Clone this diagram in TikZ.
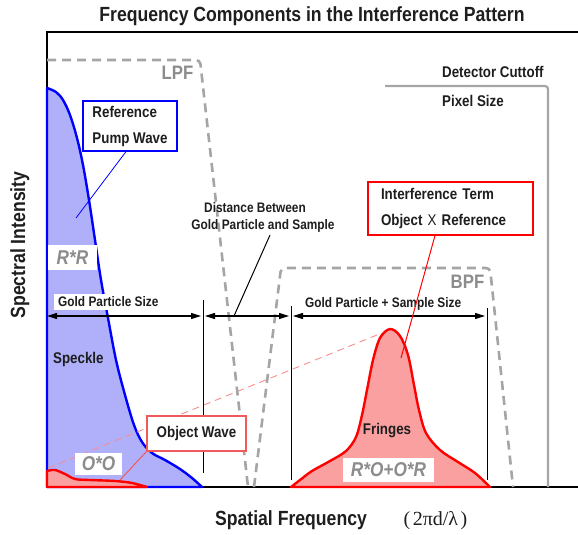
\documentclass[tikz,border=0pt]{standalone}
\usepackage{fontspec}
\setmainfont{Liberation Sans}
\newfontfamily\nar[FakeStretch=0.86]{Liberation Sans}
\newfontfamily\serifgr{Liberation Serif}
\usetikzlibrary{arrows.meta,calc}
\definecolor{txt}{RGB}{30,30,30}
\definecolor{bstroke}{RGB}{0,0,255}
\definecolor{bfill}{RGB}{176,176,250}
\definecolor{rstroke}{RGB}{255,0,0}
\definecolor{rfill}{RGB}{250,160,160}
\definecolor{ostroke}{RGB}{240,90,90}
\definecolor{rdashc}{RGB}{248,140,140}
\definecolor{gdash}{RGB}{165,165,165}
\definecolor{gtext}{RGB}{140,140,140}
\begin{document}
\begin{tikzpicture}[x=1pt,y=-1pt,
  every node/.style={inner sep=0pt},
  ttl/.style={font=\nar\bfseries\fontsize{20.5}{24}\selectfont, text=txt, anchor=base},
  lab/.style={font=\nar\bfseries\fontsize{15.5}{26}\selectfont, text=txt},
  sml/.style={font=\nar\bfseries\fontsize{13.8}{17}\selectfont, text=txt},
  filt/.style={font=\nar\bfseries\fontsize{19.5}{22}\selectfont, text=gtext, anchor=base},
  prod/.style={font=\nar\bfseries\itshape\fontsize{20}{22}\selectfont, text=gtext, fill=white},
  fdash/.style={draw=gdash, line width=2.6pt, dash pattern=on 9pt off 6pt, rounded corners=4pt},
  dimline/.style={line width=1.1pt, {Triangle[length=10pt,width=6pt]}-{Triangle[length=10pt,width=6pt]}},
  tickline/.style={line width=1pt},
  shapeB/.style={draw=bstroke, line width=2.4pt, fill=bfill, line join=round},
  shapeR/.style={draw=rstroke, line width=2.4pt, fill=rfill, line join=round},
  rdash/.style={draw=rdashc, line width=0.9pt, dash pattern=on 7pt off 5pt},
  boxB/.style={lab, draw=bstroke, line width=1.2pt, fill=white, align=left},
  boxR/.style={lab, draw=rstroke, line width=1.2pt, fill=white, align=left},
  boxO/.style={lab, draw=ostroke, line width=1.4pt, fill=white, align=center}
]
\useasboundingbox (0,0) rectangle (578,535);

% frame
\draw[line width=1.5pt] (578,32) -- (47,32) -- (47,487) -- (578,487);

% R*R spectrum
\draw[shapeB] (47,487) -- plot[smooth,tension=0.55] coordinates {(47,88) (56,92) (63,100) (70,115) (77,138) (83,165) (89,200) (95,240) (101,280) (108,318) (116,360) (125,395) (134,425) (142,442) (152,453) (165,460) (180,469) (192,478) (202,487)} -- cycle;

% O*O spectrum
\draw[shapeR] (47,487) -- plot[smooth,tension=0.55] coordinates {(47,471) (55,470) (65,474) (75,479) (90,480) (115,481) (132,483) (147,487)} -- cycle;

% fringes
\draw[shapeR] (291,487) -- plot[smooth,tension=0.55] coordinates {(291,487) (300,480) (312,471) (330,461) (346,451) (356,437) (362,415) (367,390) (373,360) (380,338) (390,329) (400,336) (408,355) (414,385) (419,410) (426,433) (440,450) (458,462) (475,473) (490,487)} -- cycle;

% red dashed guide
\coordinate (rd0) at (48,468);
\coordinate (rd1) at (377,335);
\draw[rdash] (rd0) -- (rd1);

% filters
\draw[fdash] (47,60) -- (200,60) -- (248,487);
\draw[fdash] (254,487) -- (281,268) -- (490,268) -- (513,487);
\draw[draw=gdash, line width=2.2pt, rounded corners=3pt] (385,86) -- (548,86) -- (548,487);

\node[filt] (lpf) at (177.5,79) {LPF};
\node[filt] (bpf) at (467.5,288) {BPF};
\node[lab, anchor=base west] (det) at (442,77.5) {Detector Cuttoff};
\node[lab, anchor=base west] (pix) at (442,106) {Pixel Size};

% ticks and dimensions
\coordinate (v1t) at (203,300); \coordinate (v1b) at (203,473);
\coordinate (v2t) at (291,306); \coordinate (v2b) at (291,480);
\coordinate (v3t) at (487,308); \coordinate (v3b) at (487,480);
\draw[tickline] (v1t) -- (v1b);
\draw[tickline] (v2t) -- (v2b);
\draw[tickline] (v3t) -- (v3b);
\coordinate (a0) at (47,316); \coordinate (a1) at (201,316);
\coordinate (a2) at (205,316); \coordinate (a3) at (289,316);
\coordinate (a4) at (293,316); \coordinate (a5) at (485,316);
\draw[dimline] (a0) -- (a1);
\draw[dimline] (a2) -- (a3);
\draw[dimline] (a4) -- (a5);

\node[sml, fill=white, inner xsep=4pt, inner ysep=3pt, anchor=base west] (gps) at (54,306.7) {Gold Particle Size};
\node[sml, anchor=base west] (gpss) at (305,307) {Gold Particle + Sample Size};
\node[sml, anchor=base] (dist1) at (255,212) {Distance Between};
\node[sml, anchor=base] (dist2) at (263,229) {Gold Particle and Sample};
\coordinate (dpt) at (234,316);
\draw[line width=1pt] ($(dist2.south)+(7,3)$) -- (dpt);

% labels inside
\node[lab, anchor=base west] (speckle) at (53,363) {Speckle};
\node[lab, anchor=base] (fringes) at (387,434) {Fringes};
\node[prod, minimum width=49pt, minimum height=25pt] (rr) at (72.5,257.5) {R*R};
\node[prod, minimum width=47pt, minimum height=22pt] (oo) at (98.5,464) {O*O};
\node[prod, minimum width=91pt, minimum height=24pt] (ro) at (388.5,470) {R*O+O*R};

% callout boxes
\node[boxB, minimum width=94pt, minimum height=50pt] (refbox) at (130,126) {Reference\\Pump Wave};
\coordinate (rrpt) at (76,218);
\draw[bstroke, line width=0.8pt] ($(refbox.south)+(-4,0)$) -- (rrpt);

\node[boxR, minimum width=165pt, minimum height=53pt, text width=139pt] (itbox) at (450.5,208.5) {Interference Term\\Object {\mdseries X} Reference};
\coordinate (itpt) at (401,358);
\draw[rstroke, line width=1pt] ($(itbox.south)+(-15.5,0)$) -- (itpt);

\node[boxO, minimum width=99pt, minimum height=35pt] (owbox) at (196.5,433.5) {Object Wave};
\coordinate (oopt) at (120,480);
\draw[ostroke, line width=1pt] (owbox.south west) -- (oopt);

% titles
\node[ttl] (title) at (312,22) {Frequency Components in the Interference Pattern};
\node[ttl, rotate=90] (ylab) at (25,245) {Spectral Intensity};
\node[ttl] (xlab) at (291,525) {Spatial Frequency};
\node[font=\serifgr\fontsize{20}{24}\selectfont, text=txt, anchor=base] (xunit) at (435.5,525) {(\hspace{2.5pt}2πd/λ\hspace{2.5pt})};
\end{tikzpicture}
\end{document}
